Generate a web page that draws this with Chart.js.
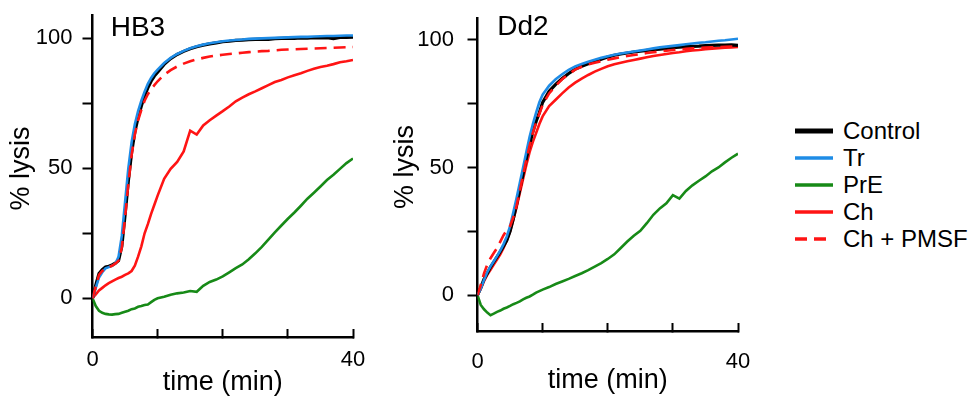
<!DOCTYPE html>
<html>
<head>
<meta charset="utf-8">
<script src="https://cdn.jsdelivr.net/npm/chart.js@4.4.1/dist/chart.umd.min.js"></script>
<style>
  html, body { margin: 0; padding: 0; background: #fff; }
  body { width: 972px; height: 402px; position: relative; overflow: hidden; font-family: 'Liberation Sans', Arial, sans-serif; }
  canvas { position: absolute; top: 0; }
  #hb3 { left: 0; }
  #dd2 { left: 385px; }
  #legend { position: absolute; left: 795px; top: 117px; font-size: 24px; color: #000; }
  #legend .row { height: 27px; display: flex; align-items: center; white-space: nowrap; }
  #legend svg { margin-right: 10px; }
</style>
</head>
<body>
<canvas id="hb3" width="380" height="402"></canvas>
<canvas id="dd2" width="380" height="402"></canvas>
<div id="legend"></div>
<script>
// time points (min)
const minutes = [0, 0.5, 1, 1.5, 2, 2.5, 3, 3.5, 4, 4.5, 5, 5.5, 6, 6.5, 7, 7.5, 8, 8.5, 9, 9.5, 10,
  11, 12, 13, 14, 15, 16, 17, 18, 19, 20, 21, 22, 23, 24, 25, 26, 27, 28, 29, 30,
  31, 32, 33, 34, 35, 36, 37, 38, 39, 40];

const seriesNames = ['Control', 'Tr', 'PrE', 'Ch', 'Ch + PMSF'];

// HB3, % lysis
const hb3Control = [0, 5, 9.5, 11, 12, 12.3, 12.8, 13.5, 14.5, 20, 32, 45, 56, 64, 69.5, 74, 78, 81, 83.5, 85.5, 87,
  90, 92.2, 93.8, 95, 96, 96.8, 97.4, 97.9, 98.3, 98.7, 98.9, 99.2, 99.3, 99.5, 99.6, 99.7, 99.6, 99.9, 100, 100.1,
  100, 100.2, 100.1, 100.3, 100.2, 100.3, 99.9, 100.4, 100.4, 100.5];
const hb3Tr = [0, 4, 8, 10, 11.5, 12, 12.5, 13.3, 16, 24, 37, 50, 60, 67, 72, 76, 79.5, 82.5, 84.8, 86.6, 88,
  90.5, 92.5, 94, 95.2, 96.2, 97, 97.6, 98.1, 98.5, 98.9, 99.2, 99.4, 99.6, 99.8, 99.9, 100, 100.1, 100.2, 100.3, 100.4,
  100.5, 100.6, 100.6, 100.7, 100.8, 100.9, 100.9, 101, 101.1, 101.1];
const hb3PrE = [0, -3, -4.8, -5.6, -6, -6.2, -6.3, -6.1, -6, -5.6, -5.2, -4.8, -4.2, -3.9, -3.3, -3, -2.6, -2.4, -1.5, -0.6, 0,
  0.6, 1.4, 1.9, 2.2, 2.8, 2.5, 4.8, 6.3, 7.2, 8.4, 10, 11.6, 13, 15, 17.3, 19.8, 22.6, 25.4, 28, 30.6,
  33, 35.6, 38.3, 40.6, 43, 45.5, 47.5, 49.8, 52, 53.8];
const hb3Ch = [0, 1.5, 3, 4, 5, 5.8, 6.5, 7.2, 7.8, 8.3, 9, 9.6, 10.5, 12.5, 16, 20, 25, 28.5, 32.5, 36, 39.5,
  46, 49.8, 52.5, 56.5, 64.5, 63, 66.5, 68.5, 70.3, 72, 73.8, 75.8, 77.2, 78.5, 79.6, 80.8, 82, 83.2, 84, 85,
  85.8, 86.6, 87.5, 88.3, 89, 89.5, 90.1, 90.8, 91.2, 91.7];
const hb3ChPmsf = [0, 4.5, 9, 10.5, 11.5, 12, 12.5, 13.3, 14.5, 19.5, 31, 44, 55, 63, 68.5, 72.5, 76, 78.5, 80.5, 82, 83.5,
  86, 87.8, 89.2, 90.3, 91.2, 91.9, 92.5, 93, 93.4, 93.7, 94, 94.2, 94.5, 94.7, 94.9, 95.1, 95.2, 95.4, 95.6, 95.7,
  95.8, 95.9, 96, 96.1, 96.2, 96.3, 96.4, 96.5, 96.6, 96.7];

// Dd2, % lysis
const dd2Control = [0, 3, 6.3, 8.5, 11, 13, 15, 17, 19.2, 21.5, 25, 30, 35.5, 41.5, 47.5, 53.5, 59, 64, 68, 71.5, 75.5,
  79.8, 82.5, 84.8, 86.8, 88.5, 89.6, 90.6, 91.5, 92.4, 93.2, 93.9, 94.4, 94.8, 95.2, 95.5, 95.8, 96.1, 96.3, 96.6, 96.9,
  97.1, 97.3, 97.4, 97.5, 97.7, 97.8, 97.9, 97.9, 98, 97.8];
const dd2Tr = [0, 2.5, 6, 9, 11.3, 13.3, 15.3, 17.5, 20, 23, 27, 32.5, 38, 44, 50, 56, 62, 67, 71.5, 75.5, 78.5,
  82, 84.5, 86.5, 88.2, 89.5, 90.5, 91.4, 92.2, 92.9, 93.5, 94.1, 94.6, 95, 95.4, 95.8, 96.2, 96.6, 97, 97.3, 97.6,
  97.9, 98.2, 98.5, 98.8, 99, 99.3, 99.6, 99.8, 100.1, 100.4];
const dd2PrE = [0, -3.8, -5.5, -6.8, -7.8, -7.2, -6.5, -6, -5.3, -4.8, -4.2, -3.5, -3, -2.4, -1.6, -1, -0.5, 0.2, 1, 1.6, 2.2,
  3.2, 4.4, 5.4, 6.4, 7.5, 8.6, 9.8, 11.2, 12.6, 14.2, 16, 18.5, 21, 23.3, 25.2, 28.2, 31.5, 34, 36, 39.2,
  37.8, 40.8, 43, 44.8, 46.5, 48.5, 50, 52, 53.8, 55.4];
const dd2Ch = [0, 2.5, 5.5, 8, 10, 12, 14, 16, 18.5, 21.5, 25, 29.5, 34.5, 40, 45.5, 51, 56, 60, 63.5, 67, 70,
  74, 76.5, 79, 81.3, 83.2, 84.8, 86.2, 87.5, 88.6, 89.6, 90.4, 91, 91.6, 92.1, 92.6, 93.1, 93.6, 94, 94.4, 94.8,
  95.1, 95.5, 95.8, 96, 96.3, 96.5, 96.7, 96.9, 97, 97.2];
const dd2ChPmsf = [0, 4, 8.5, 12, 14.5, 16.5, 18.5, 21, 23.5, 25.5, 27, 30.5, 35, 41, 47, 53, 58.5, 63.5, 67.5, 71, 74.5,
  79, 82, 84.5, 86.5, 88.3, 89.4, 90.3, 91, 91.6, 92.2, 92.7, 93.2, 93.6, 94, 94.4, 94.8, 95.1, 95.4, 95.7, 96,
  96.2, 96.4, 96.6, 96.8, 96.9, 97, 97.1, 97.2, 97.3, 97.4];

const yTicks = [0, 25, 50, 75, 100];
const yLabels = [0, 50, 100];
const xLabels = [0, 40];

const styles = [
  { color: '#000000', width: 3.2, dash: [], order: 2 },
  { color: '#1e8ce6', width: 2.6, dash: [], order: 1 },
  { color: '#178a17', width: 2.6, dash: [], order: 4 },
  { color: '#ff1414', width: 2.6, dash: [], order: 3 },
  { color: '#ff1414', width: 2.6, dash: [12, 7], order: 0 }
];

const FONT = "'Liberation Sans', Arial, sans-serif";

function makeDatasets(values) {
  return values.map((vals, i) => ({
    label: seriesNames[i],
    data: minutes.map((t, j) => ({ x: t, y: vals[j] })),
    borderColor: styles[i].color,
    borderWidth: styles[i].width,
    borderDash: styles[i].dash,
    order: styles[i].order,
    pointRadius: 0,
    tension: 0,
    fill: false
  }));
}

function panelChart(id, name, values, geo) {
  const titlePlugin = {
    id: 'panelTitle',
    afterDraw(chart) {
      const ctx = chart.ctx;
      ctx.save();
      ctx.fillStyle = '#000';
      ctx.font = '28px ' + FONT;
      ctx.textBaseline = 'alphabetic';
      ctx.fillText(name, chart.chartArea.left + geo.titleDx, geo.titleY);
      ctx.restore();
    }
  };
  return new Chart(document.getElementById(id), {
    type: 'line',
    data: { datasets: makeDatasets(values) },
    plugins: [titlePlugin],
    options: {
      responsive: false,
      animation: false,
      devicePixelRatio: 1,
      layout: { padding: { left: 0, right: 27, top: geo.top, bottom: 0 } },
      plugins: { legend: { display: false }, tooltip: { enabled: false } },
      scales: {
        x: {
          type: 'linear',
          min: 0,
          max: 40,
          afterFit(s) { s.height = 402 - geo.bottom; s.paddingLeft = 0; s.paddingRight = 0; },
          border: { display: true, color: '#000', width: 2.5 },
          grid: { display: true, drawOnChartArea: false, drawTicks: true, tickLength: -8, tickWidth: 2, tickColor: '#000', color: '#000' },
          ticks: {
            stepSize: 10,
            maxRotation: 0,
            padding: geo.xPad,
            color: '#000',
            font: { family: FONT, size: 22 },
            callback: v => xLabels.includes(v) ? String(v) : ''
          },
          title: { display: true, text: 'time (min)', color: '#000', font: { family: FONT, size: 27 }, padding: { top: 0, bottom: geo.xTitlePad } }
        },
        y: {
          min: geo.yMin,
          max: geo.yMax,
          afterFit(s) { s.width = 92.5; s.paddingTop = 0; s.paddingBottom = 0; },
          afterBuildTicks(s) { s.ticks = yTicks.map(v => ({ value: v })); },
          border: { display: true, color: '#000', width: 2.5 },
          grid: { display: true, drawOnChartArea: false, drawTicks: true, tickLength: 10, tickWidth: 2, tickColor: '#000', color: '#000' },
          ticks: {
            padding: geo.yPad,
            color: '#000',
            font: { family: FONT, size: 22 },
            callback: v => yLabels.includes(v) ? String(v) : ''
          },
          title: { display: true, text: '  % lysis', color: '#000', font: { family: FONT, size: 27 }, padding: { top: geo.yTitlePad, bottom: 0 } }
        }
      }
    }
  });
}

panelChart('hb3', 'HB3', [hb3Control, hb3Tr, hb3PrE, hb3Ch, hb3ChPmsf],
  { top: 15, bottom: 337, yMin: -14.9, yMax: 109, xPad: 17.8, xTitlePad: 2.8, yPad: 10, yTitlePad: 5.8, titleDx: 18.2, titleY: 36 });
panelChart('dd2', 'Dd2', [dd2Control, dd2Tr, dd2PrE, dd2Ch, dd2ChPmsf],
  { top: 18, bottom: 331, yMin: -14, yMax: 108.5, xPad: 25.8, xTitlePad: 4.8, yPad: 13.5, yTitlePad: 4.6, titleDx: 19.8, titleY: 35 });

// legend
const legend = document.getElementById('legend');
seriesNames.forEach((name, i) => {
  const s = styles[i];
  const row = document.createElement('div');
  row.className = 'row';
  const w = i === 0 ? 5 : 3.5;
  row.innerHTML = '<svg width="38" height="10"><line x1="0" y1="5" x2="38" y2="5" stroke="' + s.color +
    '" stroke-width="' + w + '"' + (s.dash.length ? ' stroke-dasharray="12 7"' : '') + ' stroke-linecap="butt"/></svg>' +
    '<span>' + name + '</span>';
  legend.appendChild(row);
});
</script>
</body>
</html>
